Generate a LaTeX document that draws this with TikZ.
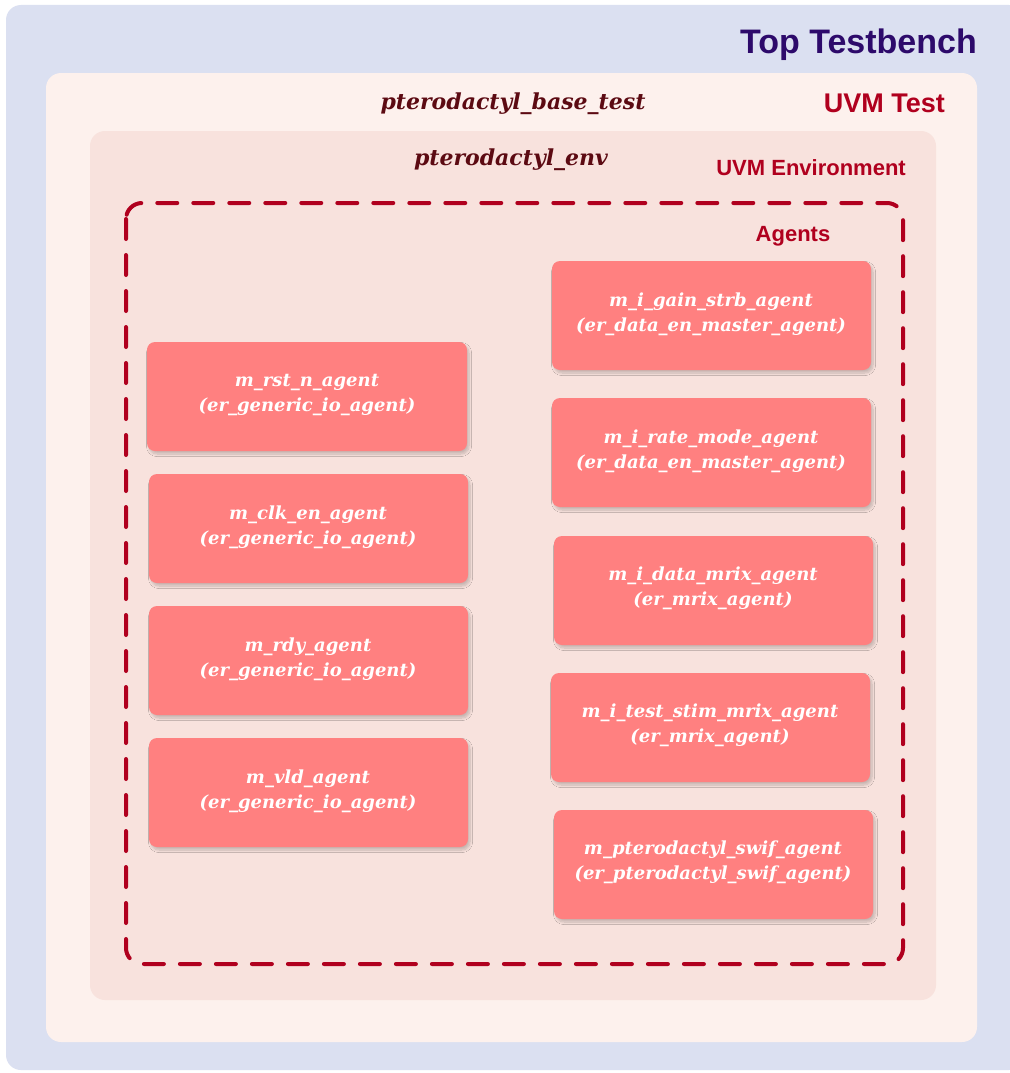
\documentclass[tikz,border=0pt]{standalone}
\usepackage{fontspec}
\setsansfont{Liberation Sans}
\newfontfamily\agentfont{DejaVu Serif}
\usetikzlibrary{shadows.blur}
\definecolor{benchbg}{HTML}{DBE0F1}
\definecolor{testbg}{HTML}{FDF1ED}
\definecolor{envbg}{HTML}{F8E2DD}
\definecolor{agentfill}{HTML}{FF8080}
\definecolor{uvmred}{HTML}{B0001E}
\definecolor{benchpurple}{HTML}{2D0A6B}
\definecolor{maroon}{HTML}{5C0A12}
\tikzset{
  x=1pt, y=-1pt,
  layer/.style={rounded corners=15pt, draw=none},
  heading/.style={font=\sffamily\bfseries, anchor=base east, inner sep=0pt},
  instname/.style={font=\agentfont\bfseries\itshape\fontsize{22}{26}\selectfont, text=maroon, inner sep=0pt, anchor=base},
  agentbox/.style={rounded corners=8pt, fill=agentfill, draw=none,
    blur shadow={shadow xshift=2pt, shadow yshift=-3pt, shadow blur steps=8, shadow opacity=20, shadow blur radius=2.5pt}},
  agenttext/.style={font=\agentfont\bfseries\itshape\fontsize{18}{25}\selectfont, text=white, align=center, inner sep=0pt},
}
\begin{document}
\begin{tikzpicture}
\useasboundingbox (0,0) rectangle (1009,1073);
\fill[white] (0,0) rectangle (1009,1073);
% nested containers
\fill[layer, benchbg] (6,5) rectangle (1024,1070);
\fill[layer, testbg] (46,73) rectangle (977,1042);
\fill[layer, envbg] (90,131) rectangle (936,1000);
\draw[uvmred, line width=4pt, rounded corners=16pt, dash pattern=on 20pt off 16pt, line cap=round]
  (126,203) rectangle (903,964);
% headings
\node[heading, text=benchpurple, font=\sffamily\bfseries\fontsize{34}{38}\selectfont] (tbtitle) at (977,53) {Top Testbench};
\node[heading, text=uvmred, font=\sffamily\bfseries\fontsize{27}{30}\selectfont] (testtitle) at (945,112) {UVM Test};
\node[heading, text=uvmred, font=\sffamily\bfseries\fontsize{22}{24}\selectfont] (envtitle) at (906,175) {UVM Environment};
\node[heading, text=uvmred, font=\sffamily\bfseries\fontsize{22}{24}\selectfont, anchor=base] (agtitle) at (793,241) {Agents};
\node[instname] (testname) at (513,109) {pterodactyl\_base\_test};
\node[instname] (envname) at (511,165) {pterodactyl\_env};
% left column of agents
\fill[agentbox] (147,342) rectangle (467,451);
\node[agenttext] (rst) at (307,395) {m\_rst\_n\_agent\\(er\_generic\_io\_agent)};
\fill[agentbox] (149,474) rectangle (468,583);
\node[agenttext] (clk) at (308,527) {m\_clk\_en\_agent\\(er\_generic\_io\_agent)};
\fill[agentbox] (149,606) rectangle (468,715);
\node[agenttext] (rdy) at (308,659) {m\_rdy\_agent\\(er\_generic\_io\_agent)};
\fill[agentbox] (149,738) rectangle (468,847);
\node[agenttext] (vld) at (308,791) {m\_vld\_agent\\(er\_generic\_io\_agent)};
% right column of agents
\fill[agentbox] (552,261) rectangle (871,370);
\node[agenttext] (gain) at (711,314) {m\_i\_gain\_strb\_agent\\(er\_data\_en\_master\_agent)};
\fill[agentbox] (552,398) rectangle (871,507);
\node[agenttext] (rate) at (711,451) {m\_i\_rate\_mode\_agent\\(er\_data\_en\_master\_agent)};
\fill[agentbox] (554,536) rectangle (873,645);
\node[agenttext] (data) at (713,588) {m\_i\_data\_mrix\_agent\\(er\_mrix\_agent)};
\fill[agentbox] (551,673) rectangle (870,782);
\node[agenttext] (stim) at (710,725) {m\_i\_test\_stim\_mrix\_agent\\(er\_mrix\_agent)};
\fill[agentbox] (554,810) rectangle (873,919);
\node[agenttext] (swif) at (713,862) {m\_pterodactyl\_swif\_agent\\(er\_pterodactyl\_swif\_agent)};
\end{tikzpicture}
\end{document}
